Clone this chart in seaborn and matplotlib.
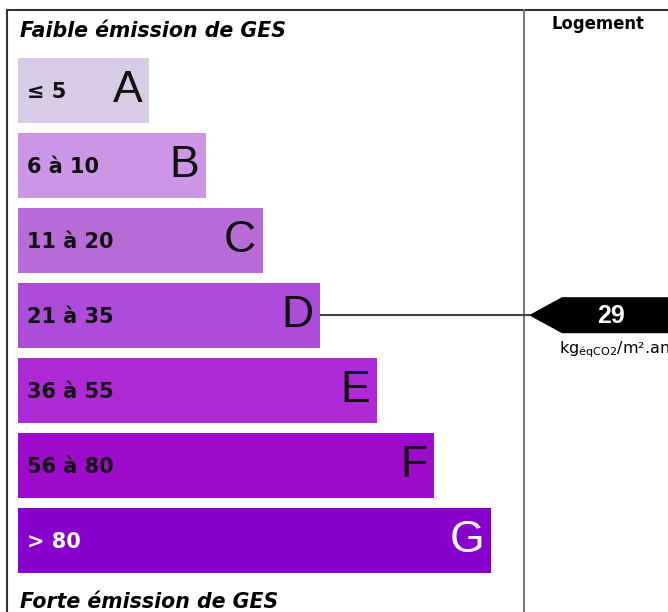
import numpy as np
import pandas as pd
import matplotlib
matplotlib.use("Agg")
import matplotlib.pyplot as plt
from matplotlib.patches import Polygon
import seaborn as sns

# ================================================
# Data
# ================================================
classes = ["A", "B", "C", "D", "E", "F", "G"]
ranges = ["≤ 5", "6 à 10", "11 à 20", "21 à 35", "36 à 55", "56 à 80", "> 80"]
upper_bounds = [5, 10, 20, 35, 55, 80, np.inf]
bar_lengths = [131, 188, 245, 302, 359, 416, 473]
colors = ["#d8cbe5", "#cd95e5", "#b96cd8", "#ab4dd9", "#ae2ad6", "#9c0bcc", "#8700cc"]
text_colors = ["#111111"] * 6 + ["white"]
value = 29
unit = r"kg$_{\mathregular{éqCO2}}$/m².an"

df = pd.DataFrame({"classe": classes, "longueur": bar_lengths})

# ================================================
# Layout (pixels)
# ================================================
W, H = 668, 612
BAR_LEFT = 18.3
BAR_TOP = 52.7
ROW = 75.0
SEP_X = 524
TIP_X = 529
SHOULDER_X = 562
HALF_H = 18

plt.rcParams["font.family"] = ["DejaVu Sans"]
fig = plt.figure(figsize=(W / 100, H / 100), dpi=100)

# background axes in pixel coords
ax_bg = fig.add_axes([0, 0, 1, 1])
ax_bg.set_xlim(0, W)
ax_bg.set_ylim(H, 0)
ax_bg.axis("off")

# bar axes
ax = fig.add_axes([BAR_LEFT / W, (H - BAR_TOP - 7 * ROW) / H,
                   (W - BAR_LEFT) / W, 7 * ROW / H])
sns.barplot(data=df, x="longueur", y="classe", hue="classe", palette=colors,
            orient="h", width=0.87, saturation=1, legend=False, linewidth=0, ax=ax)
ax.set_xlim(0, W - BAR_LEFT)
ax.set_ylim(6.5, -0.5)
ax.axis("off")

for i, (cls, rng, length, tc) in enumerate(zip(classes, ranges, bar_lengths, text_colors)):
    ax.text(9, i + 0.02, rng, ha="left", va="center", fontsize=15, fontweight="bold", color=tc)
    ax.text(length - 7, i + 0.01, cls, ha="right", va="center", fontsize=32,
            family="Liberation Sans", color=tc)

# frame
ax_bg.plot([7, W], [10, 10], color="#333333", lw=1.5)
ax_bg.plot([7, 7], [10, H], color="#333333", lw=1.5)
ax_bg.plot([SEP_X, SEP_X], [10, H], color="#777777", lw=1.5)

ax_bg.text(20, 31, "Faible émission de GES", ha="left", va="center",
           fontsize=14.8, fontweight="bold", fontstyle="italic")
ax_bg.text(20, 602, "Forte émission de GES", ha="left", va="center",
           fontsize=14.8, fontweight="bold", fontstyle="italic")
ax_bg.text(598, 24, "Logement", ha="center", va="center", fontsize=11.9, fontweight="bold")

# marker for the value
idx = next(i for i, ub in enumerate(upper_bounds) if value <= ub)
y_mark = BAR_TOP + ROW * (idx + 0.5)
x_end = BAR_LEFT + bar_lengths[idx]
ax_bg.plot([x_end, TIP_X], [y_mark, y_mark], color="#444444", lw=1.5)
arrow = Polygon([[TIP_X, y_mark], [SHOULDER_X, y_mark - HALF_H], [W, y_mark - HALF_H],
                 [W, y_mark + HALF_H], [SHOULDER_X, y_mark + HALF_H]],
                closed=True, facecolor="black", edgecolor="none")
ax_bg.add_patch(arrow)
ax_bg.text(611, y_mark + 1, str(value), ha="center", va="center", fontsize=18,
           fontweight="bold", family="Liberation Sans", color="white")
ax_bg.text(614, y_mark + 35, unit, ha="center", va="center", fontsize=11.5)

fig.savefig("out.png", dpi=100, facecolor="white")
